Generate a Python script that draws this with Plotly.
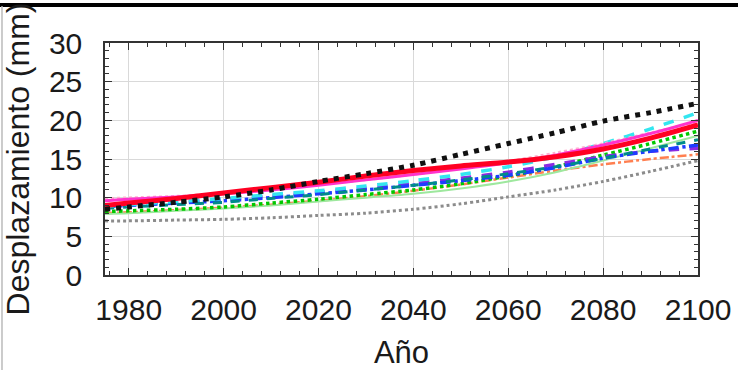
import plotly.graph_objects as go

years = [1975, 1980, 1990, 2000, 2010, 2020, 2030, 2040, 2050, 2060, 2070, 2080, 2090, 2100]

gray_dot    = [7.0, 7.0, 7.1, 7.2, 7.4, 7.7, 8.0, 8.5, 9.2, 10.1, 11.0, 12.1, 13.4, 14.8]
orange_dd   = [8.0, 8.1, 8.4, 8.7, 9.1, 9.6, 10.2, 10.9, 11.7, 12.6, 13.5, 14.3, 15.0, 15.6]
lgreen_sol  = [7.9, 8.0, 8.3, 8.6, 9.0, 9.5, 10.0, 10.5, 11.2, 12.1, 13.3, 14.8, 16.4, 18.0]
green_dot   = [8.2, 8.3, 8.5, 8.8, 9.3, 9.8, 10.4, 11.0, 11.8, 12.8, 14.0, 15.5, 17.0, 18.6]
purple_dash = [9.0, 9.2, 9.5, 9.8, 10.2, 10.7, 11.2, 11.8, 12.5, 13.3, 14.3, 15.3, 16.0, 16.4]
blue_dd     = [8.8, 9.0, 9.3, 9.6, 10.0, 10.5, 11.0, 11.6, 12.2, 12.9, 13.9, 15.1, 16.0, 16.8]
teal_dash   = [8.6, 8.8, 9.1, 9.4, 9.9, 10.4, 11.0, 11.6, 12.3, 13.1, 14.0, 15.1, 16.3, 17.5]
cyan_dash   = [8.9, 9.1, 9.5, 9.9, 10.4, 10.9, 11.5, 12.2, 13.0, 14.0, 15.3, 17.0, 18.9, 21.0]
pink_dot    = [9.9, 10.0, 10.2, 10.6, 11.1, 11.7, 12.3, 13.0, 13.8, 14.7, 15.8, 17.0, 18.4, 19.8]
magenta_sol = [9.6, 9.8, 10.1, 10.5, 11.0, 11.6, 12.3, 13.0, 13.7, 14.5, 15.5, 16.8, 18.3, 20.0]
red_sol     = [9.0, 9.3, 9.9, 10.6, 11.3, 12.0, 12.8, 13.5, 14.1, 14.6, 15.3, 16.3, 17.7, 19.4]
black_sq    = [8.5, 8.8, 9.4, 10.1, 11.0, 12.1, 13.1, 14.2, 15.6, 17.0, 18.4, 19.9, 21.0, 22.2]

x_ticks = [1980, 2000, 2020, 2040, 2060, 2080, 2100]
y_ticks = [0, 5, 10, 15, 20, 25, 30]

series = [
    (gray_dot, "#8c8c8c", 3, "3px,3px"),
    (orange_dd, "#ff7f50", 2.5, "dashdot"),
    (lgreen_sol, "#9ee89e", 2, "solid"),
    (green_dot, "#00c800", 3.5, "dot"),
    (purple_dash, "#8a2be2", 3.5, "dash"),
    (blue_dd, "#1e3cff", 3.5, "dashdot"),
    (teal_dash, "#008b8b", 3, "dash"),
    (cyan_dash, "#33e6f0", 3.5, "dash"),
    (pink_dot, "#ffb0d0", 2.5, "dot"),
    (magenta_sol, "#ff33cc", 3, "solid"),
    (red_sol, "#ff0022", 5, "solid"),
    (black_sq, "#111111", 5, "5px,6px"),
]

fig = go.Figure()
for vals, color, w, dash in series:
    fig.add_trace(go.Scatter(
        x=years, y=vals, mode="lines",
        line=dict(color=color, width=w, dash=dash, shape="spline", smoothing=0.8),
        showlegend=False, hoverinfo="skip",
    ))

tick_font = dict(family="Liberation Sans, Arial, sans-serif", size=30, color="#1a1a1a")
ytitle_font = dict(family="Liberation Sans, Arial, sans-serif", size=32, color="#1a1a1a")
xtitle_font = dict(family="Liberation Sans, Arial, sans-serif", size=31, color="#1a1a1a")

fig.update_layout(
    width=738, height=370,
    margin=dict(l=105, r=40, t=43, b=95),
    paper_bgcolor="white", plot_bgcolor="white",
    font=tick_font,
    showlegend=False,
)
fig.update_xaxes(
    range=[1975, 2100], tickvals=x_ticks, tickfont=tick_font,
    showgrid=True, gridcolor="#d9d9d9", gridwidth=1,
    showline=True, linecolor="#333333", linewidth=1.5, mirror="ticks",
    ticks="inside", ticklen=7, tickcolor="#333333",
    minor=dict(dtick=4, tick0=1980, ticks="inside", ticklen=4, tickcolor="#333333", showgrid=False),
    zeroline=False, ticklabelstandoff=7, automargin=False,
    title=dict(text="Año", font=xtitle_font, standoff=17),
)
fig.update_yaxes(
    range=[0, 30], tickvals=y_ticks, tickfont=tick_font,
    showgrid=True, gridcolor="#d9d9d9", gridwidth=1,
    showline=True, linecolor="#333333", linewidth=1.5, mirror="ticks",
    ticks="inside", ticklen=7, tickcolor="#333333",
    minor=dict(dtick=1, ticks="inside", ticklen=4, tickcolor="#333333", showgrid=False),
    zeroline=False, ticklabelstandoff=15, automargin=False,
    title=dict(text="Desplazamiento (mm)", font=ytitle_font, standoff=10),
)

# top border line and left edge from the cropped source
fig.add_shape(type="line", xref="paper", yref="paper",
              x0=-0.2, x1=1.1, y0=1.1638, y1=1.1638,
              line=dict(color="black", width=4))
fig.add_shape(type="line", xref="paper", yref="paper",
              x0=-0.1737, x1=-0.1737, y0=-0.45, y1=1.16,
              line=dict(color="#bbbbbb", width=1.5))

fig.write_html("out.html", config={"displayModeBar": False},
               post_script="document.body.style.margin='0px';")
